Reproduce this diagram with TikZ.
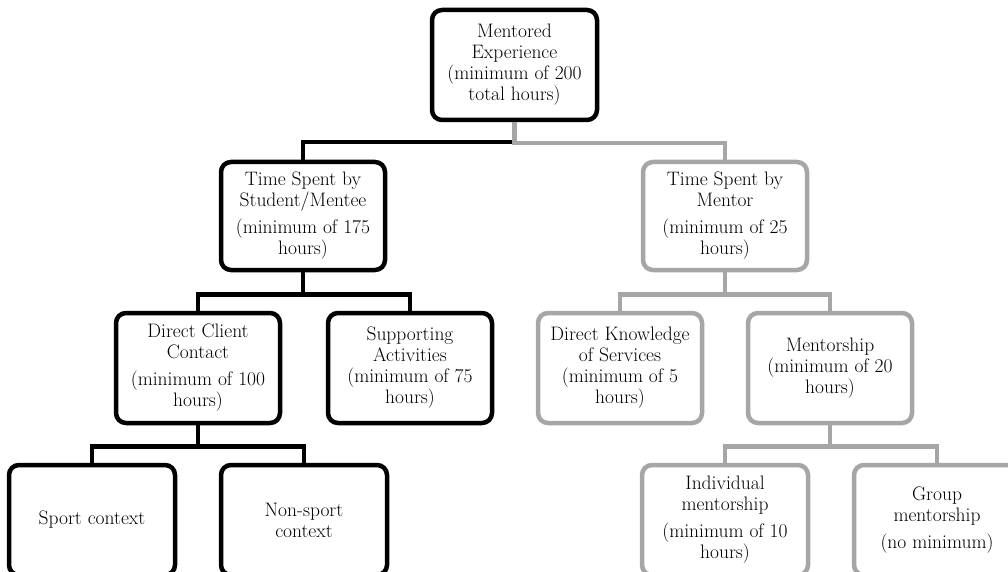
\documentclass[tikz,border=0pt]{standalone}
\usepackage{xcolor}
\usepackage{tikz}
\definecolor{boxgray}{HTML}{A6A6A6}

\begin{document}
\begin{tikzpicture}[x=1pt, y=1pt,
    box/.style={draw, rounded corners=10pt, line width=4.5pt, fill=white,
        minimum width=164pt, minimum height=108pt, align=center, inner sep=2pt,
        font=\fontsize{19.5}{21}\selectfont},
    blk/.style={draw=black},
    gry/.style={draw=boxgray},
    link/.style={line width=4.5pt}]
    \useasboundingbox (0,0) rectangle (1008,571);
    \clip (0,0) rectangle (1008,571);

    % Top level
    \node[box, blk, minimum width=165pt, minimum height=110pt] (root) at (514.5,506)
        {Mentored\\Experience\\(minimum of 200\\total hours)};

    % Student side
    \node[box, blk] (stud) at (303,355)
        {Time Spent by\\Student/Mentee\\[6pt](minimum of 175\\hours)};
    \node[box, blk, minimum height=110pt] (dcc) at (198,203)
        {Direct Client\\Contact\\[6pt](minimum of 100\\hours)};
    \node[box, blk, minimum height=110pt] (supp) at (410,203)
        {Supporting\\Activities\\(minimum of 75\\hours)};
    \node[box, blk, minimum width=166pt, minimum height=110pt] (sport) at (92,51)
        {Sport context};
    \node[box, blk, minimum width=166pt, minimum height=110pt] (nonsport) at (304,51)
        {Non-sport\\context};

    % Mentor side
    \node[box, gry] (ment) at (725,355)
        {Time Spent by\\Mentor\\[6pt](minimum of 25\\hours)};
    \node[box, gry, minimum height=110pt] (dks) at (620,203)
        {Direct Knowledge\\of Services\\(minimum of 5\\hours)};
    \node[box, gry, minimum height=110pt] (mship) at (830,203)
        {Mentorship\\(minimum of 20\\hours)};
    \node[box, gry, minimum width=166pt, minimum height=110pt] (indiv) at (725,51)
        {Individual\\mentorship\\[6pt](minimum of 10\\hours)};
    \node[box, gry, minimum width=166pt, minimum height=110pt] (group) at (937,51)
        {Group\\mentorship\\[6pt](no minimum)};

    % Connectors, black side
    \draw[link, black] (root.south) -- ++(0,-20) -| (stud.north);
    \draw[link, black] (stud.south) -- ++(0,-22) -| (dcc.north);
    \draw[link, black] (stud.south) -- ++(0,-22) -| (supp.north);
    \draw[link, black] (dcc.south) -- ++(0,-21) -| (sport.north);
    \draw[link, black] (dcc.south) -- ++(0,-21) -| (nonsport.north);

    % Connectors, gray side
    \draw[link, boxgray] (root.south) -- ++(0,-21) -| (ment.north);
    \draw[link, boxgray] (ment.south) -- ++(0,-22) -| (dks.north);
    \draw[link, boxgray] (ment.south) -- ++(0,-22) -| (mship.north);
    \draw[link, boxgray] (mship.south) -- ++(0,-21) -| (indiv.north);
    \draw[link, boxgray] (mship.south) -- ++(0,-21) -| (group.north);
\end{tikzpicture}
\end{document}
